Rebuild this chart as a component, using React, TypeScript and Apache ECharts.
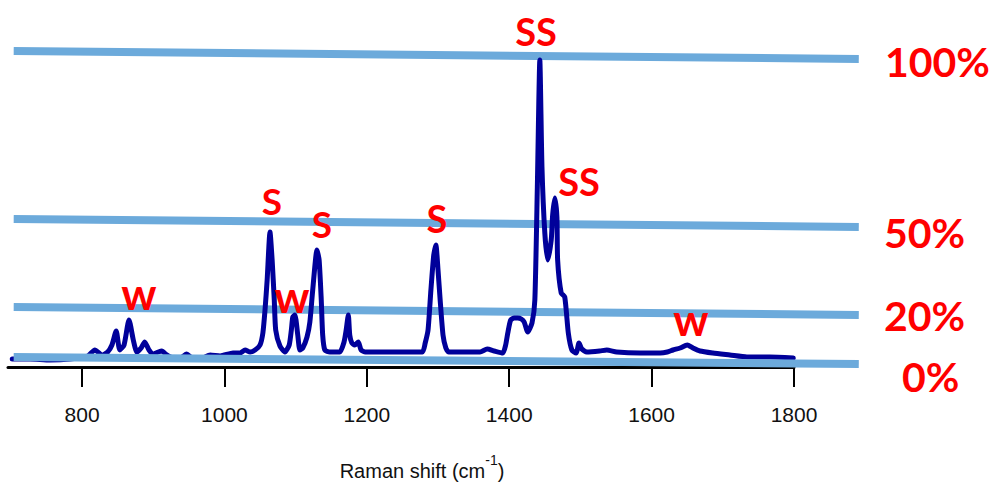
import React, { useEffect, useRef } from "react";
import * as echarts from "echarts";

// Raman spectrum (x: Raman shift in cm^-1, y: intensity in arbitrary units)
const ramanShift = [
  702, 727, 755, 783, 808, 818, 828, 836, 842, 848, 853, 859, 866, 872, 877, 883, 888, 894, 900, 907,
  912, 919, 928, 938, 947, 954, 966, 980, 994, 1012, 1022, 1029, 1036, 1043, 1050, 1054, 1057, 1060, 1064, 1067,
  1070, 1072, 1078, 1085, 1091, 1094, 1096, 1099, 1103, 1106, 1110, 1116, 1120, 1124, 1130, 1133, 1136, 1138, 1141, 1148,
  1162, 1168, 1171, 1174, 1176, 1179, 1183, 1188, 1192, 1198, 1212, 1233, 1254, 1278, 1282, 1286, 1290, 1294, 1297, 1300,
  1303, 1307, 1311, 1315, 1345, 1359, 1369, 1379, 1391, 1395, 1398, 1402, 1407, 1412, 1417, 1421, 1426, 1432, 1436, 1439.5,
  1443, 1446, 1450, 1454, 1459, 1461, 1464, 1467, 1468, 1473, 1478, 1483, 1488, 1494, 1498, 1502, 1509, 1527, 1537, 1551,
  1584, 1612, 1622, 1630, 1640, 1650, 1658, 1668, 1686, 1710, 1734, 1766, 1799,
];
const intensity = [
  8, 8, 7, 8, 11, 17, 12, 15, 22, 36, 17, 22, 47, 27, 15, 19, 25, 17, 13, 15,
  16, 12, 9, 9, 13, 9, 8, 12, 11, 14, 14, 17, 15, 17, 22, 34, 57, 87, 135, 107,
  67, 37, 21, 15, 22, 37, 50, 52, 32, 17, 19, 30, 45, 77, 117, 107, 67, 32, 17, 15,
  15, 25, 37, 52, 32, 24, 22, 25, 17, 15, 15, 15, 15, 15, 24, 37, 77, 112, 122, 97,
  67, 32, 19, 15, 15, 15, 18, 16, 14, 22, 34, 47, 49, 49, 48, 45, 35, 44, 67, 180,
  307, 200, 134, 107, 127, 152, 169, 150, 107, 74, 70, 34, 17, 14, 24, 18, 15, 16, 17, 15,
  14, 14, 15, 17, 19, 22, 19, 16, 14, 12, 10, 10, 9,
];

// x-axis ticks
const tickValues = [800, 1000, 1200, 1400, 1600, 1800];

// Slanted reference levels (intensity at left and right ends)
const refLabels = ["100%", "50%", "20%", "0%"];
const refLeft = [316, 148, 60, 10];
const refRight = [308, 140, 52, 3];
const refStart = 704;
const refEnd = 1891;

// Peak annotations
const peakTags = ["SS", "SS", "S", "S", "S", "w", "w", "w"];

export default function App() {
  const ref = useRef<HTMLDivElement>(null);

  useEffect(() => {
    if (!ref.current) return;
    const chart = echarts.init(ref.current, null, { renderer: "svg" });

    const W = 996;
    const gLeft = 8;
    const gRight = 202;
    const xMin = 696;
    const xMax = 1800;
    const pxPerUnit = (W - gLeft - gRight) / (xMax - xMin);
    const x2Min = xMin - gLeft / pxPerUnit;
    const x2Max = xMax + gRight / pxPerUnit;

    const sans = "'Liberation Sans', Arial, sans-serif";
    const red = "#FF0000";
    const blue = "#6CAADB";

    const tagPos: [number, number, number][] = [
      [536, 31, 38],
      [579, 181, 38],
      [272, 200, 37],
      [322, 223, 37],
      [437, 218, 38],
      [139, 293, 44],
      [292, 296, 44],
      [691, 319, 44],
    ];
    const pctPos: [number, number][] = [
      [885, 61],
      [884, 232],
      [884, 315],
      [902, 376],
    ];

    const graphics: any[] = [];
    peakTags.forEach((t, i) => {
      const [x, y, fs] = tagPos[i];
      graphics.push({
        type: "text",
        x,
        y,
        z: 100,
        style: {
          text: t,
          fill: red,
          fontSize: fs,
          fontWeight: "bold",
          fontFamily: "Lato, 'Open Sans', sans-serif",
          align: "center",
          verticalAlign: "middle",
        },
      });
    });
    refLabels.forEach((t, i) => {
      const [x, y] = pctPos[i];
      graphics.push({
        type: "text",
        x,
        y,
        z: 100,
        style: {
          text: t,
          fill: red,
          fontSize: 41,
          fontWeight: "bold",
          fontFamily: "Lato, 'Open Sans', sans-serif",
          align: "left",
          verticalAlign: "middle",
        },
      });
    });

    const refSeries = refLabels.map((name, i) => ({
      name,
      type: "line",
      xAxisIndex: 1,
      yAxisIndex: 1,
      data: [
        [refStart, refLeft[i]],
        [refEnd, refRight[i]],
      ],
      symbol: "none",
      silent: true,
      z: i === 3 ? 4 : 2,
      lineStyle: { color: blue, width: 8, cap: "butt" },
    }));

    chart.setOption({
      animation: false,
      backgroundColor: "#ffffff",
      grid: [
        { left: gLeft, right: gRight, top: 47, bottom: 115, containLabel: false, outerBoundsMode: "none" },
        { left: 0, right: 0, top: 47, bottom: 115, containLabel: false, outerBoundsMode: "none" },
      ],
      xAxis: [
        {
          type: "value",
          gridIndex: 0,
          min: xMin,
          max: xMax,
          name: "{a|Raman shift (cm}{b|-1}{a|)}",
          nameLocation: "middle",
          nameGap: 86,
          nameTextStyle: {
            padding: [0, 0, 0, 42],
            rich: {
              a: { fontSize: 20, fontFamily: sans, color: "#111", lineHeight: 28, verticalAlign: "bottom" },
              b: { fontSize: 14, fontFamily: sans, color: "#111", verticalAlign: "top", lineHeight: 14 },
            },
          },
          axisLine: { show: true, onZero: false, lineStyle: { color: "#000", width: 3 } },
          axisTick: {
            show: true,
            inside: false,
            length: 20,
            customValues: tickValues,
            lineStyle: { color: "#000", width: 2 },
          },
          axisLabel: {
            customValues: tickValues,
            formatter: (v: number) => String(v),
            margin: 37,
            fontSize: 21,
            fontFamily: sans,
            color: "#111",
          },
          splitLine: { show: false },
        },
        {
          type: "value",
          gridIndex: 1,
          min: x2Min,
          max: x2Max,
          show: false,
        },
      ],
      yAxis: [
        { type: "value", gridIndex: 0, min: 0, max: 320, show: false },
        { type: "value", gridIndex: 1, min: 0, max: 320, show: false },
      ],
      series: [
        {
          name: "Raman spectrum",
          type: "line",
          xAxisIndex: 0,
          yAxisIndex: 0,
          data: ramanShift.map((x, i) => [x, intensity[i]]),
          symbol: "none",
          smooth: 0.2,
          silent: true,
          z: 3,
          lineStyle: { color: "#00009A", width: 5, join: "round", cap: "round" },
        },
        ...refSeries,
      ],
      graphic: graphics,
    });

    return () => chart.dispose();
  }, []);

  return (
    <div
      ref={ref}
      style={{ position: "absolute", left: 0, top: 0, width: 996, height: 482 }}
    />
  );
}
